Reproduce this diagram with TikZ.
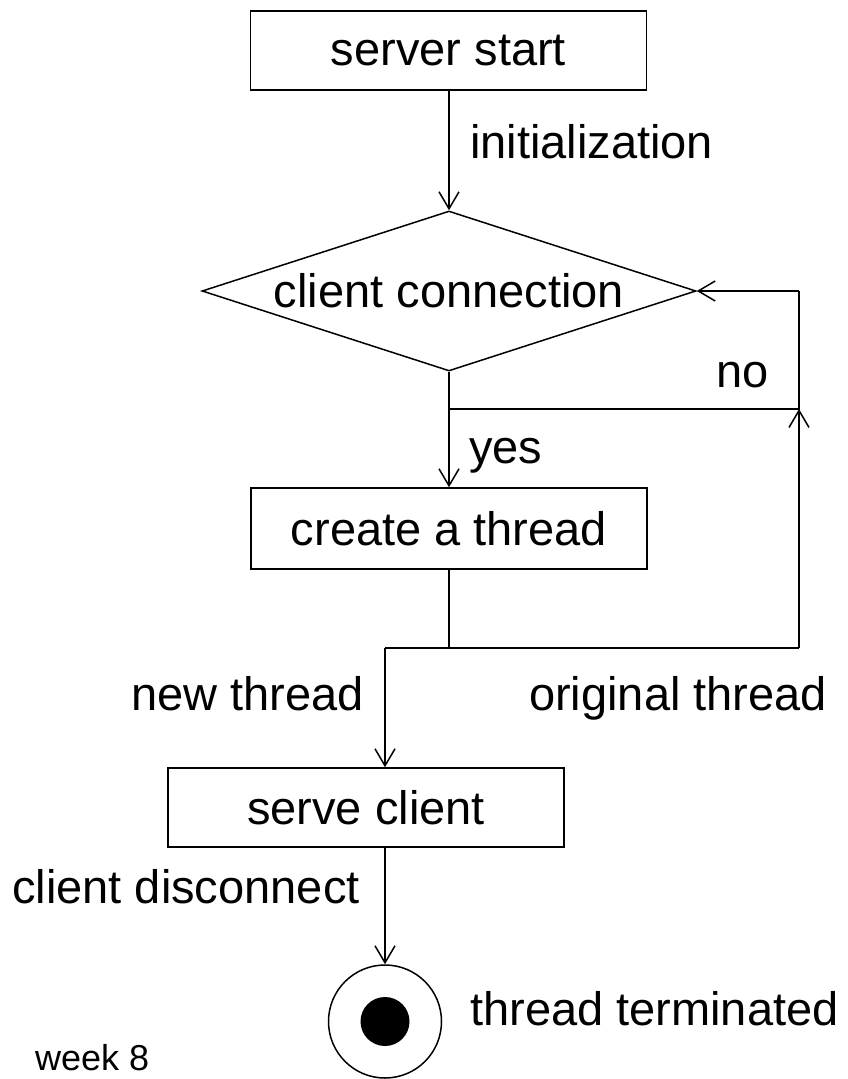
\documentclass[tikz,border=0pt]{standalone}
\usepackage{fontspec}
\setmainfont{Liberation Sans}
\usetikzlibrary{shapes.geometric,arrows.meta}
\begin{document}
\begin{tikzpicture}[x=1pt,y=-1pt,
  every node/.style={font=\fontsize{47}{56}\selectfont},
  box/.style={draw,line width=1.5pt,inner sep=0pt,minimum width=396pt,minimum height=80pt},
  decision/.style={draw,line width=1.5pt,shape=diamond,aspect=3.09,inner sep=0pt,minimum width=494pt,minimum height=160pt},
  lbl/.style={anchor=base west,inner sep=0pt},
  conn/.style={line width=1.5pt},
  arr/.style={line width=1.5pt,-{Straight Barb[length=17pt,width=20pt,line width=1.5pt]}}
]
\useasboundingbox (0,0) rectangle (847,1079);

\node[box,minimum height=79pt] (ss) at (448.5,50.5) {server start};
\node[decision] (d) at (449,291) {client connection};
\node[box,minimum height=81pt] (ct) at (449,528.5) {create a thread};
\node[box,minimum height=79pt] (sc) at (366,807.5) {serve client};
\node[draw,circle,line width=1.5pt,minimum size=113pt,inner sep=0pt] (end) at (385,1021.5) {};
\node[circle,fill=black,minimum size=49pt,inner sep=0pt] (dot) at (end.center) {};

\coordinate (nr) at (799,409);
\coordinate (ne) at (799,291);
\coordinate (sp) at (449,648);
\coordinate (sl) at (385,648);
\coordinate (sr) at (799,648);

\draw[arr] (d.north |- ss.south) -- (d.north);
\draw[arr] (d.south) -- (ct.north);
\draw[conn] (d.south |- nr) -- (nr) -- (ne);
\draw[arr] (ne) -- (d.east);
\draw[conn] (ct.south) -- (sp);
\draw[conn] (sl) -- (sr);
\draw[arr] (sr) -- (nr);
\draw[arr] (sl) -- (sl |- sc.north);
\draw[arr] (end.north |- sc.south) -- (end.north);

\node[lbl] (l1) at (470,158) {initialization};
\node[lbl] (l2) at (716,387) {no};
\node[lbl] (l3) at (469,463) {yes};
\node[lbl] (l4) at (131,710) {new thread};
\node[lbl] (l5) at (529,710) {original thread};
\node[lbl] (l6) at (12,903) {client disconnect};
\node[lbl] (l7) at (470,1025) {thread terminated};
\node[lbl,font=\fontsize{36}{43}\selectfont] (l8) at (35,1070) {week 8};
\end{tikzpicture}
\end{document}
